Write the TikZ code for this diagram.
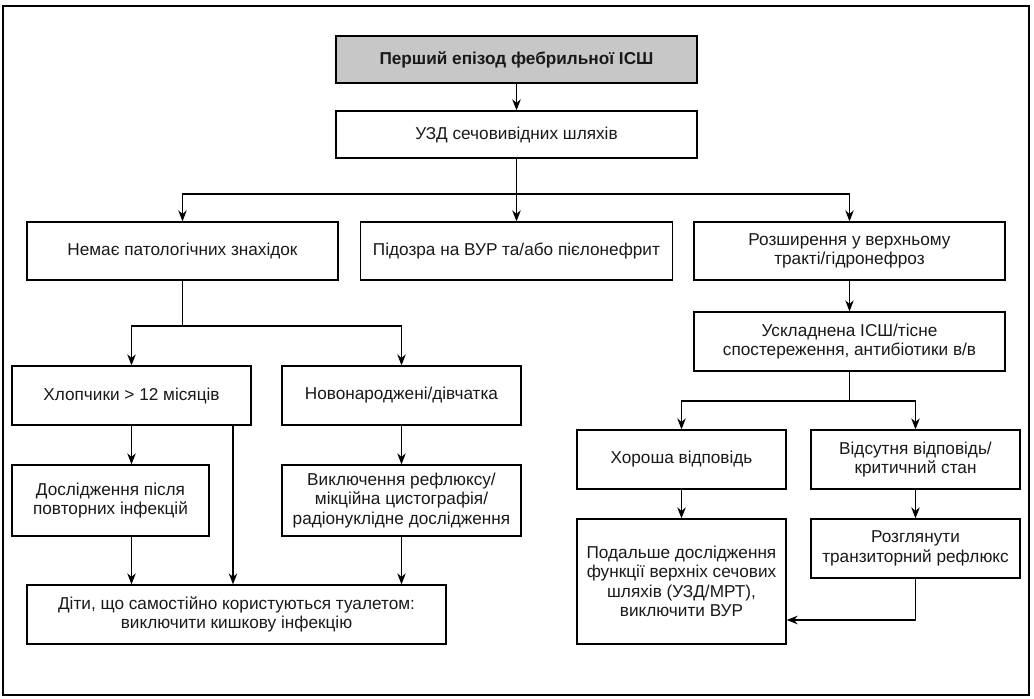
\documentclass[tikz,border=0pt]{standalone}
\usepackage{fontspec}
\setmainfont{Liberation Sans}
\usetikzlibrary{arrows.meta}
\tikzset{
  box/.style={draw=black, line width=1.3pt, inner sep=0pt, align=center,
    font=\fontsize{17.2}{19.5}\selectfont, text=black!90},
  arr/.style={line width=1.3pt, -{Stealth[length=11pt,width=8.5pt]}},
  ln/.style={line width=1.3pt},
}
\begin{document}
\begin{tikzpicture}[x=1pt,y=-1pt]
\useasboundingbox (0,0) rectangle (1034,699);
\draw[line width=1.4pt] (3,6) rectangle (1029,695);
% row 0/1
\node[box, fill=black!22, font=\fontsize{17.2}{19.5}\selectfont\bfseries, minimum width=361pt, minimum height=47pt] (top) at (516.5,59.5) {Перший епізод фебрильної ІСШ};
\node[box, minimum width=361pt, minimum height=47pt] (uzd) at (516.5,134.5) {УЗД сечовивідних шляхів};
% row 2
\node[box, minimum width=311pt, minimum height=58pt] (b1) at (182.5,251) {Немає патологічних знахідок};
\node[box, minimum width=312pt, minimum height=58pt] (b2) at (516.5,251) {Підозра на ВУР та/або пієлонефрит};
\node[box, minimum width=311pt, minimum height=58pt] (b3) at (849.5,251) {Розширення у верхньому\\тракті/гідронефроз};
% left branch
\node[box, minimum width=239pt, minimum height=59pt] (hl) at (131.5,395.5) {Хлопчики > 12 місяців};
\node[box, minimum width=239pt, minimum height=59pt] (nov) at (401.5,395.5) {Новонароджені/дівчатка};
\node[box, minimum width=197pt, minimum height=71pt] (dos) at (110.5,500.5) {Дослідження після\\повторних інфекцій};
\node[box, minimum width=239pt, minimum height=71pt] (vyk) at (401.5,500.5) {Виключення рефлюксу/\\мікційна цистографія/\\радіонуклідне дослідження};
\node[box, minimum width=419pt, minimum height=59pt] (dity) at (236.5,614.5) {Діти, що самостійно користуються туалетом:\\виключити кишкову інфекцію};
% right branch
\node[box, minimum width=311pt, minimum height=59pt] (usk) at (849.5,341.5) {Ускладнена ІСШ/тісне\\спостереження, антибіотики в/в};
\node[box, minimum width=209pt, minimum height=59pt] (hor) at (681.5,459.5) {Хороша відповідь};
\node[box, minimum width=209pt, minimum height=59pt] (vid) at (915.5,459.5) {Відсутня відповідь/\\критичний стан};
\node[box, minimum width=209pt, minimum height=125pt] (pod) at (681.5,581.5) {Подальше дослідження\\функції верхніх сечових\\шляхів (УЗД/МРТ),\\виключити ВУР};
\node[box, minimum width=209pt, minimum height=59pt] (roz) at (915.5,548.5) {Розглянути\\транзиторний рефлюкс};
% coordinates
\coordinate (s1) at (516.5,194);
\coordinate (s2) at (182.5,326);
\coordinate (s3) at (849.5,401);
\coordinate (s4) at (915.5,620);
\coordinate (hlx) at (233,425);
% connectors
\draw[arr] (top) -- (uzd);
\draw[ln] (uzd.south) -- (s1);
\draw[arr] (s1) -| (b1.north);
\draw[arr] (s1) -- (b2.north);
\draw[arr] (s1) -| (b3.north);
\draw[ln] (b1.south) -- (s2);
\draw[arr] (s2) -| (hl.north);
\draw[arr] (s2) -| (nov.north);
\draw[arr] (hl.south) -- (hl.south |- dos.north);
\draw[arr] (nov.south) -- (vyk.north);
\draw[arr] (hl.south |- dos.south) -- (hl.south |- dity.north);
\draw[arr] (hlx) -- (hlx |- dity.north);
\draw[arr] (vyk.south) -- (vyk.south |- dity.north);
\draw[arr] (b3.south) -- (usk.north);
\draw[ln] (usk.south) -- (s3);
\draw[arr] (s3) -| (hor.north);
\draw[arr] (s3) -| (vid.north);
\draw[arr] (hor.south) -- (pod.north);
\draw[arr] (vid.south) -- (roz.north);
\draw[ln] (roz.south) -- (s4);
\draw[arr] (s4) -- (s4 -| pod.east);
\end{tikzpicture}
\end{document}
